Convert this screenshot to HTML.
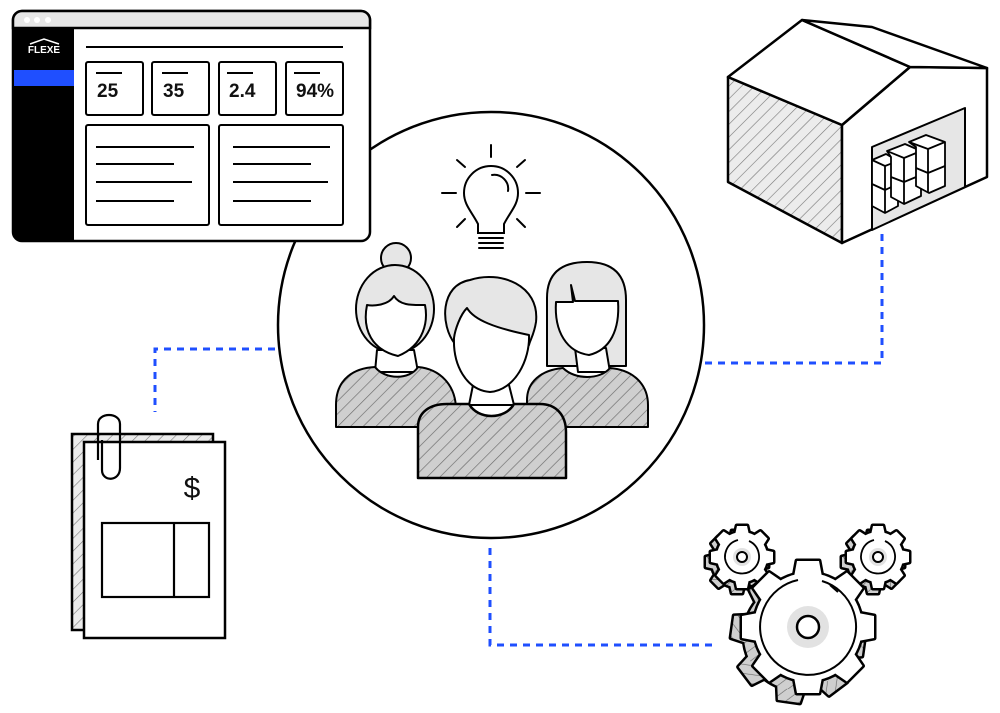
<!DOCTYPE html>
<html><head><meta charset="utf-8"><style>
html,body{margin:0;padding:0;background:#fff;width:1000px;height:713px;overflow:hidden}
svg{display:block}
text{font-family:"Liberation Sans",sans-serif}
</style></head><body>
<svg width="1000" height="713" viewBox="0 0 1000 713" xmlns="http://www.w3.org/2000/svg">
<defs>
<pattern id="h" patternUnits="userSpaceOnUse" width="9" height="9" patternTransform="rotate(45)">
<rect width="9" height="9" fill="#cfcfcf"/><line x1="0" y1="0" x2="0" y2="9" stroke="#6a6a6a" stroke-width="1.3"/>
</pattern>
<pattern id="h2" patternUnits="userSpaceOnUse" width="9" height="9" patternTransform="rotate(45)">
<rect width="9" height="9" fill="#ececec"/><line x1="0" y1="0" x2="0" y2="9" stroke="#777" stroke-width="1.2"/>
</pattern>
<g id="bigshape">
<path id="bt" d="M-11 -66 H11 L14 -50 H-14z"/>
<use href="#bt" transform="rotate(45)"/><use href="#bt" transform="rotate(90)"/><use href="#bt" transform="rotate(135)"/>
<use href="#bt" transform="rotate(180)"/><use href="#bt" transform="rotate(225)"/><use href="#bt" transform="rotate(270)"/><use href="#bt" transform="rotate(315)"/>
<circle r="54"/>
</g>
<g id="smallshape">
<path id="st" d="M-5 -31 H5 L7 -22 H-7z"/>
<use href="#st" transform="rotate(45)"/><use href="#st" transform="rotate(90)"/><use href="#st" transform="rotate(135)"/>
<use href="#st" transform="rotate(180)"/><use href="#st" transform="rotate(225)"/><use href="#st" transform="rotate(270)"/><use href="#st" transform="rotate(315)"/>
<circle r="25"/>
</g>
</defs>

<!-- dashed connectors -->
<g fill="none" stroke="#1f4fff" stroke-width="3" stroke-dasharray="7 6">
<path d="M275 349 H155 V412"/>
<path d="M705 363 H882 V232"/>
<path d="M490 548 V645 H718"/>
</g>

<!-- central circle -->
<circle cx="491" cy="325" r="213" fill="#fff" stroke="#000" stroke-width="2.5"/>

<!-- dashboard -->
<rect x="13" y="11" width="357" height="230" rx="9" fill="#fff" stroke="#000" stroke-width="2.5"/>
<path d="M22 11 H361 a9 9 0 0 1 9 9 V28 H13 V20 a9 9 0 0 1 9-9z" fill="#e6e6e6" stroke="#000" stroke-width="2.5"/>
<circle cx="27" cy="20" r="3" fill="#fff"/><circle cx="37" cy="20" r="3" fill="#fff"/><circle cx="48" cy="20" r="3" fill="#fff"/>
<path d="M13 29 H74 V241 H22 a9 9 0 0 1 -9-9z" fill="#000"/>
<rect x="14" y="70" width="60" height="16" fill="#1f4fff"/>
<path d="M30 44 L44 39 L59 44" fill="none" stroke="#fff" stroke-width="1.5"/>
<text x="44" y="53" fill="#fff" font-size="10" font-weight="bold" text-anchor="middle">FLEXE</text>
<line x1="86" y1="47" x2="343" y2="47" stroke="#000" stroke-width="2"/>
<g fill="#fff" stroke="#000" stroke-width="2">
<rect x="86" y="62" width="57" height="53" rx="2"/><rect x="152" y="62" width="57" height="53" rx="2"/>
<rect x="219" y="62" width="57" height="53" rx="2"/><rect x="286" y="62" width="57" height="53" rx="2"/>
<rect x="86" y="125" width="123" height="100" rx="2"/><rect x="219" y="125" width="124" height="100" rx="2"/>
</g>
<g stroke="#000" stroke-width="2">
<line x1="96" y1="73" x2="122" y2="73"/><line x1="162" y1="73" x2="188" y2="73"/>
<line x1="227" y1="73" x2="253" y2="73"/><line x1="294" y1="73" x2="320" y2="73"/>
<line x1="96" y1="147" x2="194" y2="147"/><line x1="96" y1="164" x2="174" y2="164"/>
<line x1="96" y1="182" x2="192" y2="182"/><line x1="96" y1="201" x2="174" y2="201"/>
<line x1="233" y1="147" x2="330" y2="147"/><line x1="233" y1="164" x2="311" y2="164"/>
<line x1="233" y1="182" x2="328" y2="182"/><line x1="233" y1="201" x2="311" y2="201"/>
</g>
<g font-size="19" font-weight="bold" fill="#111">
<text x="97" y="97">25</text><text x="163" y="97">35</text><text x="229" y="97">2.4</text><text x="296" y="97">94%</text>
</g>

<!-- warehouse -->
<g stroke="#000" stroke-width="2.5" stroke-linejoin="round">
<polygon points="728,77 842,125 842,243 728,182" fill="url(#h2)"/>
<polygon points="842,125 910,67 987,68 987,177 842,243" fill="#fff"/>
<polygon points="728,77 802,20 910,67 842,125" fill="#fff"/>
<polygon points="802,20 872,27 987,68 910,67" fill="#fff"/>
<polygon points="872,147 965,108 965,187 872,230" fill="#e6e6e6" stroke-width="2"/>
</g>
<g fill="#fff" stroke="#000" stroke-width="1.8" stroke-linejoin="round">
<path d="M872 160 L886 154 L898 161 V206 L885 213 L872 206z"/><path d="M872 160 L885 166 L898 161 M885 166 V213 M872 184 L885 190 L898 184"/>
<path d="M887 151 L905 144 L921 151 V196 L904 204 L891 197 V157z"/><path d="M887 151 L904 158 L921 151 M904 158 V204 M891 177 L904 182 L921 175"/>
<path d="M909 142 L926 135 L945 142 V186 L929 193 L916 186 V147z"/><path d="M909 142 L928 149 L945 142 M928 149 V193 M916 168 L928 173 L945 166"/>
</g>

<!-- bulb -->
<g fill="none" stroke="#000" stroke-width="2" stroke-linecap="round">
<line x1="491" y1="145" x2="491" y2="157"/>
<line x1="442" y1="193" x2="456" y2="193"/><line x1="526" y1="193" x2="540" y2="193"/>
<line x1="457" y1="160" x2="465" y2="167"/><line x1="525" y1="160" x2="517" y2="167"/>
<line x1="457" y1="227" x2="465" y2="219"/><line x1="525" y1="227" x2="517" y2="219"/>
<path d="M478 233 V224 C472 212 464 205 464 193 A27 27 0 0 1 518 193 C518 205 510 212 504 224 V233z"/>
<path d="M492 175 A14 14 0 0 1 508 191"/>
<line x1="479" y1="238" x2="503" y2="238"/><line x1="479" y1="243" x2="503" y2="243"/><line x1="479" y1="248" x2="503" y2="248"/>
</g>

<!-- people -->
<g stroke="#000" stroke-width="2" stroke-linejoin="round">
<circle cx="396" cy="258" r="15" fill="#e6e6e6"/>
<ellipse cx="395" cy="309" rx="39" ry="44" fill="#e6e6e6"/>
<path d="M377 350 L375 372 H418 L414 350z" fill="#fff"/>
<path d="M367 305 C372 306 388 306 394 296 C400 306 413 305 425 305 C428 320 425 345 398 356 C372 350 362 330 367 305z" fill="#fff"/>
<path d="M336 427 V405 C336 378 355 368 375 367 C385 380 410 380 418 367 C440 369 456 385 456 410 V427z" fill="url(#h)"/>
<path d="M547 366 V298 C547 270 565 262 587 262 C610 262 626 272 626 300 V366z" fill="#e6e6e6"/>
<path d="M575 348 L578 372 H610 L606 348z" fill="#fff"/>
<path d="M556 302 H573 L571 285 L575 301 H618 C620 330 610 350 589 355 C567 352 554 332 556 302z" fill="#fff"/>
<path d="M527 427 V400 C527 382 541 370 563 368 C575 380 600 380 610 368 C634 370 648 385 648 405 V427z" fill="url(#h)"/>
<path d="M473 385 L469 405 H514 L509 385z" fill="#fff"/>
<path d="M455 344 C440 325 440 285 470 280 C500 270 540 285 536 322 C534 335 530 340 529 345z" fill="#e6e6e6"/>
<path d="M454 338 C455 330 460 315 467 308 C474 320 495 328 529 335 C530 360 515 390 490 392 C466 390 453 365 454 338z" fill="#fff"/>
<path d="M418 478 V427 C418 412 430 404 447 404 H469 C478 420 505 420 514 404 H540 C556 404 566 415 566 432 V478z" fill="url(#h)" stroke-width="2.5"/>
</g>

<!-- invoice -->
<rect x="72" y="434" width="141" height="196" fill="url(#h2)" stroke="#000" stroke-width="2.5"/>
<rect x="84" y="442" width="141" height="196" fill="#fff" stroke="#000" stroke-width="2.5"/>
<path d="M98 460 V424 C98 412 120 412 120 424 V468 C120 482 102 482 102 470 V440" fill="none" stroke="#000" stroke-width="2.2"/>
<text x="192" y="498" font-size="30" text-anchor="middle" fill="#111">$</text>
<rect x="102" y="523" width="107" height="74" fill="#fff" stroke="#000" stroke-width="2.2"/>
<line x1="174" y1="523" x2="174" y2="597" stroke="#000" stroke-width="2.2"/>

<!-- gears: small left -->
<g transform="translate(737,562)"><use href="#smallshape" fill="#000" stroke="#000" stroke-width="5" stroke-linejoin="round"/><use href="#smallshape" fill="url(#h)"/></g>
<g transform="translate(742,557)"><use href="#smallshape" fill="#000" stroke="#000" stroke-width="5" stroke-linejoin="round"/><use href="#smallshape" fill="#fff"/>
<path d="M-4 -17 A17 17 0 1 0 7 -16" fill="none" stroke="#000" stroke-width="1.8"/>
<circle r="9" fill="#e2e2e2"/><circle r="5" fill="#fff" stroke="#000" stroke-width="2"/></g>
<!-- small right -->
<g transform="translate(873,562)"><use href="#smallshape" fill="#000" stroke="#000" stroke-width="5" stroke-linejoin="round"/><use href="#smallshape" fill="url(#h)"/></g>
<g transform="translate(878,557)"><use href="#smallshape" fill="#000" stroke="#000" stroke-width="5" stroke-linejoin="round"/><use href="#smallshape" fill="#fff"/>
<path d="M-4 -17 A17 17 0 1 0 7 -16" fill="none" stroke="#000" stroke-width="1.8"/>
<circle r="9" fill="#e2e2e2"/><circle r="5" fill="#fff" stroke="#000" stroke-width="2"/></g>
<!-- big -->
<g transform="translate(798,636) rotate(8)"><use href="#bigshape" fill="#000" stroke="#000" stroke-width="5" stroke-linejoin="round"/><use href="#bigshape" fill="url(#h)"/></g>
<g transform="translate(808,627)"><use href="#bigshape" fill="#000" stroke="#000" stroke-width="5" stroke-linejoin="round"/><use href="#bigshape" fill="#fff"/>
<path d="M-10 -47 A48 48 0 1 0 14 -46" fill="none" stroke="#000" stroke-width="2"/>
<path d="M22 -42 L30 -35" fill="none" stroke="#000" stroke-width="2"/>
<circle r="21" fill="#e2e2e2"/>
<circle r="11" fill="#fff" stroke="#000" stroke-width="2.5"/></g>
</svg>
</body></html>
